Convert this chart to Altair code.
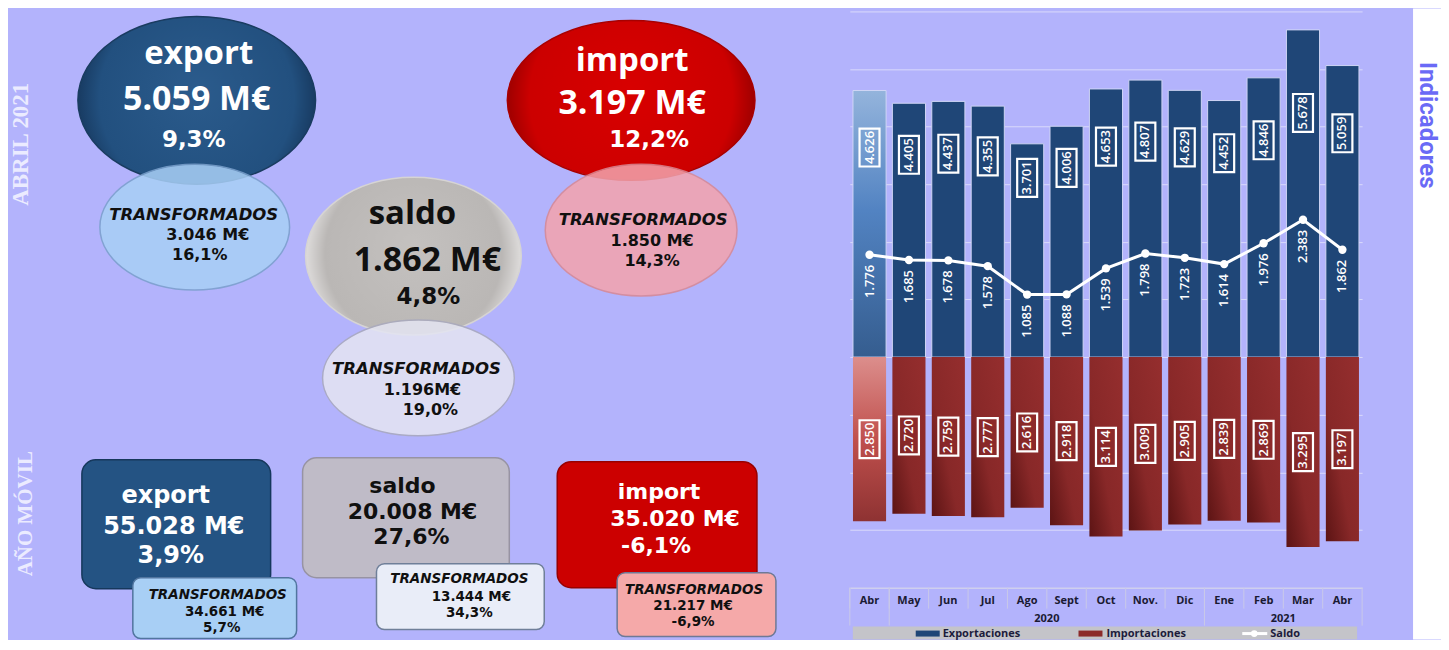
import altair as alt
import pandas as pd

# ----------------------------- datos -----------------------------
titulos = ["export", "saldo", "import"]
mes_periodo = "ABRIL 2021"
mes_valores = ["5.059 M€", "1.862 M€", "3.197 M€"]
mes_tasas = ["9,3%", "4,8%", "12,2%"]
transf_titulo = "TRANSFORMADOS"
mes_transf_valores = ["3.046 M€", "1.196M€", "1.850 M€"]
mes_transf_tasas = ["16,1%", "19,0%", "14,3%"]
anual_periodo = "AÑO MÓVIL"
anual_valores = ["55.028 M€", "20.008 M€", "35.020 M€"]
anual_tasas = ["3,9%", "27,6%", "-6,1%"]
anual_transf_valores = ["34.661 M€", "13.444 M€", "21.217 M€"]
anual_transf_tasas = ["5,7%", "34,3%", "-6,9%"]

meses = ["Abr", "May", "Jun", "Jul", "Ago", "Sept", "Oct", "Nov.", "Dic", "Ene", "Feb", "Mar", "Abr"]
grupos = [""] + ["2020"] * 8 + ["2021"] * 4
exportaciones = [4626, 4405, 4437, 4355, 3701, 4006, 4653, 4807, 4629, 4452, 4846, 5678, 5059]
importaciones = [2850, 2720, 2759, 2777, 2616, 2918, 3114, 3009, 2905, 2839, 2869, 3295, 3197]
saldo = [1776, 1685, 1678, 1578, 1085, 1088, 1539, 1798, 1723, 1614, 1976, 2383, 1862]
series = ["Exportaciones", "Importaciones", "Saldo"]
titulo_lateral = "Indicadores"

# ----------------------------- estilo -----------------------------
BG = "#b3b3fc"
WHITE = "#ffffff"
DARK = "#101010"
BLUE = "#1f4677"
RED = "#8c2a2a"

# ======================= panel izquierdo (infografía) =======================
X0, X1, Y0, Y1 = 8, 842, 8, 640
W_A, H = X1 - X0, Y1 - Y0
xs = alt.Scale(domain=[X0, X1], nice=False, zero=False)
ys = alt.Scale(domain=[Y0, Y1], nice=False, zero=False, reverse=True)


def XA(f="x"):
    return alt.X(f"{f}:Q", scale=xs, axis=None)


def YA(f="y"):
    return alt.Y(f"{f}:Q", scale=ys, axis=None)


def ellipse_path(r):
    k = 0.5523
    f = lambda v: f"{v:.4f}"
    return (f"M1,0C1,{f(k*r)} {f(k)},{f(r)} 0,{f(r)}C{f(-k)},{f(r)} -1,{f(k*r)} -1,0"
            f"C-1,{f(-k*r)} {f(-k)},{f(-r)} 0,{f(-r)}C{f(k)},{f(-r)} 1,{f(-k*r)} 1,0Z")


def radial(c0, c1, c2):
    return {"gradient": "radial", "x1": 0.5, "y1": 0.45, "r1": 0, "x2": 0.5, "y2": 0.5, "r2": 0.5,
            "stops": [{"offset": 0, "color": c0}, {"offset": 0.82, "color": c1}, {"offset": 1, "color": c2}]}


def ellipse_layer(geom, fill, stroke, sw=1.5, opacity=1.0):
    cx, cy, rx, ry = geom
    d = pd.DataFrame({"x": [cx], "y": [cy]})
    return alt.Chart(d).mark_point(
        shape=ellipse_path(ry / rx), size=4 * rx * rx, filled=True, fill=fill,
        stroke=stroke, strokeWidth=sw, opacity=opacity
    ).encode(x=XA(), y=YA())


ell_geom = [(197, 100, 119, 84), (414, 256, 108, 79), (632, 100, 124, 80)]
ell_t_geom = [(195, 227, 95, 63), (419, 378, 96, 58), (642, 230, 96, 66)]
ell_fill = [radial("#2b5b8c", "#22507f", "#183b62"),
            radial("#c4c1bf", "#bab7b5", "#dedcdb"),
            radial("#d80000", "#cc0000", "#9e0000")]
ell_stroke = ["#1a3c60", "#d6d4d3", "#a80000"]
ell_t_fill = ["#a8cff6", "#e4e5f2", "#f3a3ad"]
ell_t_stroke = ["#7aa0cc", "#a9a9bd", "#d98893"]

box_rect = [(82, 271, 460, 589), (303, 510, 458, 578), (558, 758, 462, 588)]
box_t_rect = [(133, 297, 578, 639), (377, 545, 564, 630), (618, 777, 573, 637)]
box_fill = ["#245383", "#bfbbc7", "#cc0000"]
box_stroke = ["#16385c", "#9793a3", "#980000"]
box_t_fill = ["#a8cff5", "#e9edf8", "#f5a9a9"]
box_t_stroke = ["#51759f", "#6f7f99", "#6e7996"]

ell_txt_pos = [[(199, 54), (197, 100), (194, 140)],
               [(413, 214), (428, 261), (429, 297)],
               [(633, 61), (633, 104), (650, 140)]]
ell_t_txt_pos = [[(194, 215), (208, 235), (200, 255)],
                 [(417, 369), (423, 390), (431, 410)],
                 [(644, 220), (653, 241), (653, 261)]]
box_txt_pos = [[(166, 496), (174, 527), (171, 556)],
               [(403, 486), (413, 512), (412, 537)],
               [(660, 492), (676, 519), (657, 546)]]
box_t_txt_pos = [[(218, 595), (225, 612), (222, 628)],
                 [(460, 579), (472, 597), (470, 613)],
                 [(695, 590), (694, 606), (694, 622)]]
main_color = [WHITE, DARK, WHITE]
box_size = [24, 22, 22]

big_rows, dv_rows, dvi_rows = [], [], []
for i in range(3):
    (tx, ty), (vx, vy), (rx_, ry_) = ell_txt_pos[i]
    big_rows.append((titulos[i], tx, ty, 33, main_color[i]))
    big_rows.append((mes_valores[i], vx, vy, 34, main_color[i]))
    dv_rows.append((mes_tasas[i], rx_, ry_, 23, main_color[i]))
    (tx, ty), (vx, vy), (rx_, ry_) = ell_t_txt_pos[i]
    dvi_rows.append((transf_titulo, tx, ty, 16.5, DARK))
    dv_rows.append((mes_transf_valores[i], vx, vy, 16, DARK))
    dv_rows.append((mes_transf_tasas[i], rx_, ry_, 16, DARK))
    (tx, ty), (vx, vy), (rx_, ry_) = box_txt_pos[i]
    dv_rows.append((titulos[i], tx, ty, box_size[i], main_color[i]))
    dv_rows.append((anual_valores[i], vx, vy, box_size[i], main_color[i]))
    dv_rows.append((anual_tasas[i], rx_, ry_, box_size[i], main_color[i]))
    (tx, ty), (vx, vy), (rx_, ry_) = box_t_txt_pos[i]
    dvi_rows.append((transf_titulo, tx, ty, 13.5, DARK))
    dv_rows.append((anual_transf_valores[i], vx, vy, 13.5, DARK))
    dv_rows.append((anual_transf_tasas[i], rx_, ry_, 13.5, DARK))


def text_layer(rows, font, style="normal"):
    d = pd.DataFrame(rows, columns=["t", "x", "y", "s", "c"])
    return alt.Chart(d).mark_text(
        font=font, fontWeight="bold", fontStyle=style, align="center", baseline="middle"
    ).encode(x=XA(), y=YA(), text="t:N", size=alt.Size("s:Q", scale=None),
             color=alt.Color("c:N", scale=None))


def box_layer(rects, fills, strokes, radius):
    d = pd.DataFrame([(r[0], r[1], r[2], r[3], f, s) for r, f, s in zip(rects, fills, strokes)],
                     columns=["x", "x2", "y", "y2", "f", "s"])
    return alt.Chart(d).mark_rect(cornerRadius=radius, strokeWidth=1.5).encode(
        x=XA(), x2="x2:Q", y=YA(), y2="y2:Q",
        fill=alt.Fill("f:N", scale=None), stroke=alt.Stroke("s:N", scale=None))


side = pd.DataFrame({"t": [mes_periodo, anual_periodo], "x": [21, 26], "y": [144, 514], "s": [23, 21]})
side_layer = alt.Chart(side).mark_text(
    angle=270, font="Liberation Serif", fontWeight="bold", color="#ebebff", align="center", baseline="middle"
).encode(x=XA(), y=YA(), text="t:N", size=alt.Size("s:Q", scale=None))

layers_a = []
for i in range(3):
    layers_a.append(ellipse_layer(ell_geom[i], ell_fill[i], ell_stroke[i], 1.5))
for i in range(3):
    layers_a.append(ellipse_layer(ell_t_geom[i], ell_t_fill[i], ell_t_stroke[i], 1.5, 0.86))
layers_a.append(box_layer(box_rect, box_fill, box_stroke, 14))
layers_a.append(box_layer(box_t_rect, box_t_fill, box_t_stroke, 8))
layers_a.append(text_layer(big_rows, "Open Sans"))
layers_a.append(text_layer(dv_rows, "DejaVu Sans"))
layers_a.append(text_layer(dvi_rows, "DejaVu Sans", "italic"))
layers_a.append(side_layer)
panel_a = alt.layer(*layers_a).properties(width=W_A, height=H)

# ======================= panel central (gráfico) =======================
W_B, H_B = 513, 580
keys = [f"{m}|{i}" for i, m in enumerate(meses)]
df = pd.DataFrame({"key": keys, "mes": meses, "grupo": grupos, "exp": exportaciones,
                   "imp": importaciones, "saldo": saldo, "idx": list(range(len(meses)))})

AX = alt.Axis(title=None, labelExpr="split(datum.label, '|')[0]", labelAngle=0, ticks=False, tickSize=0,
              labelPadding=7, labelFont="Open Sans", labelFontWeight="bold", labelFontSize=11,
              labelColor="#1a1a33", domainColor="#cfcfee", domainWidth=1.5, grid=False)
XS = alt.Scale(paddingInner=0, paddingOuter=0)
YS = alt.Scale(domain=[-4000, 6050], nice=False, zero=False)
AY = alt.Axis(title=None, values=list(range(-3000, 7000, 1000)), labels=False, ticks=False, domain=False,
              grid=True, gridColor="#dadafb", gridWidth=1)


def XB(bp=None):
    if bp is None:
        return alt.X("key:N", sort=keys, scale=XS, axis=AX)
    return alt.X("key:N", sort=keys, scale=XS, axis=AX, bandPosition=bp)


def YB(f):
    return alt.Y(f"{f}:Q", scale=YS, axis=AY)


base = alt.Chart(df).transform_calculate(
    imp_neg="-datum.imp",
    imp_mid="-datum.imp / 2",
    exp_pos="datum.exp * 0.57 + 1000",
    exp_lbl="replace(format(datum.exp, ','), ',', '.')",
    imp_lbl="replace(format(datum.imp, ','), ',', '.')",
    sal_lbl="replace(format(datum.saldo, ','), ',', '.')",
)

BW = alt.RelativeBandSize(0.84)
grad_exp0 = {"gradient": "linear", "x1": 0, "y1": 0, "x2": 0, "y2": 1,
             "stops": [{"offset": 0, "color": "#94b4dc"}, {"offset": 0.45, "color": "#5283c2"},
                       {"offset": 1, "color": "#355d8f"}]}
grad_imp0 = {"gradient": "linear", "x1": 0, "y1": 0, "x2": 0, "y2": 1,
             "stops": [{"offset": 0, "color": "#dc8e8c"}, {"offset": 0.5, "color": "#c0504d"},
                       {"offset": 1, "color": "#8e3232"}]}
grad_imp = {"gradient": "linear", "x1": 1, "y1": 0, "x2": 0, "y2": 1,
            "stops": [{"offset": 0, "color": "#952e2e"}, {"offset": 0.6, "color": "#882828"},
                      {"offset": 1, "color": "#5c1414"}]}

bars_exp = base.transform_filter("datum.idx > 0").mark_bar(
    width=BW, color=BLUE, stroke="#cfd5f5", strokeWidth=1).encode(x=XB(), y=YB("exp"))
bars_exp0 = base.transform_filter("datum.idx == 0").mark_bar(
    width=BW, color=grad_exp0, stroke="#cfd5f5", strokeWidth=1).encode(x=XB(), y=YB("exp"))
bars_imp = base.transform_filter("datum.idx > 0").mark_bar(
    width=BW, color=grad_imp).encode(x=XB(), y=YB("imp_neg"))
bars_imp0 = base.transform_filter("datum.idx == 0").mark_bar(
    width=BW, color=grad_imp0).encode(x=XB(), y=YB("imp_neg"))

RECT = "M-0.526,-1L0.526,-1L0.526,1L-0.526,1Z"
LBL_FONT = dict(font="Open Sans", fontSize=13, fontWeight=600, color=WHITE)
box_exp = base.mark_point(shape=RECT, size=1444, filled=False, color=WHITE, strokeWidth=2.2,
                          opacity=1).encode(x=XB(), y=YB("exp_pos"))
box_imp = base.mark_point(shape=RECT, size=1444, filled=False, color=WHITE, strokeWidth=2.2,
                          opacity=1).encode(x=XB(), y=YB("imp_mid"))
txt_exp = base.mark_text(angle=270, align="center", baseline="middle", **LBL_FONT).encode(
    x=XB(), y=YB("exp_pos"), text="exp_lbl:N")
txt_imp = base.mark_text(angle=270, align="center", baseline="middle", **LBL_FONT).encode(
    x=XB(), y=YB("imp_mid"), text="imp_lbl:N")

line_sal = base.mark_line(color=WHITE, strokeWidth=3).encode(x=XB(), y=YB("saldo"))
pts_sal = base.mark_point(filled=True, color=WHITE, size=70, opacity=1).encode(x=XB(), y=YB("saldo"))
txt_sal = base.mark_text(angle=270, align="right", baseline="middle", dx=-10, **LBL_FONT).encode(
    x=XB(), y=YB("saldo"), text="sal_lbl:N")

# separadores del eje de categorías
SEP = "#c9c9e8"
AXY = H_B
sep_short = alt.Chart(df).mark_rule(color=SEP, strokeWidth=1).encode(
    x=XB(0), y=alt.value(AXY), y2=alt.value(AXY + 21))
starts = [k for j, k in enumerate(keys) if j == 0 or grupos[j] != grupos[j - 1]]
sep_long = alt.Chart(pd.DataFrame({"key": starts})).mark_rule(color=SEP, strokeWidth=1).encode(
    x=XB(0), y=alt.value(AXY), y2=alt.value(AXY + 38))
sep_end = alt.Chart(pd.DataFrame({"key": [keys[-1]]})).mark_rule(color=SEP, strokeWidth=1).encode(
    x=XB(1), y=alt.value(AXY), y2=alt.value(AXY + 38))

# etiquetas de año (centradas en su grupo)
yr_rows = []
j = 0
while j < len(keys):
    k = j
    while k + 1 < len(keys) and grupos[k + 1] == grupos[j]:
        k += 1
    n = k - j + 1
    if grupos[j]:
        yr_rows.append((grupos[j], keys[j + n // 2]))
    j = k + 1
yr = alt.Chart(pd.DataFrame(yr_rows, columns=["g", "key"])).mark_text(
    font="Open Sans", fontWeight="bold", fontSize=11, color="#1a1a33", baseline="middle"
).encode(x=XB(0), y=alt.value(AXY + 31), text="g:N")

# leyenda
one = pd.DataFrame({"a": [0]})
LY = AXY + 46
leg = [
    alt.Chart(one).mark_rect(color="#c4c4c9").encode(
        x=alt.value(3), x2=alt.value(508), y=alt.value(LY - 7), y2=alt.value(LY + 6)),
    alt.Chart(one).mark_rect(color=BLUE).encode(
        x=alt.value(66), x2=alt.value(90), y=alt.value(LY - 3), y2=alt.value(LY + 3)),
    alt.Chart(one).mark_rect(color=RED).encode(
        x=alt.value(229), x2=alt.value(253), y=alt.value(LY - 3), y2=alt.value(LY + 3)),
    alt.Chart(one).mark_rule(color=WHITE, strokeWidth=3).encode(
        x=alt.value(393), x2=alt.value(418), y=alt.value(LY)),
    alt.Chart(one).mark_point(filled=True, color=WHITE, size=45, opacity=1).encode(
        x=alt.value(405), y=alt.value(LY)),
]
for xpos, name in zip([93, 257, 421], series):
    leg.append(alt.Chart(one).mark_text(
        font="Open Sans", fontWeight="bold", fontSize=11, color="#1c1c3c", align="left", baseline="middle"
    ).encode(x=alt.value(xpos), y=alt.value(LY), text=alt.value(name)))

panel_b = alt.layer(
    bars_exp, bars_exp0, bars_imp, bars_imp0, box_exp, txt_exp, box_imp, txt_imp,
    line_sal, pts_sal, txt_sal, sep_short, sep_long, sep_end, yr, *leg
).properties(width=W_B, height=H_B)

# ======================= franja derecha =======================
W_C = 70
panel_c = alt.layer(
    alt.Chart(one).mark_rect(color=WHITE).encode(
        x=alt.value(42), x2=alt.value(W_C), y=alt.value(0), y2=alt.value(H)),
    alt.Chart(one).mark_text(angle=90, font="Roboto", fontWeight="bold", fontSize=24, color="#6a6af6",
                             align="center", baseline="alphabetic").encode(
        x=alt.value(49), y=alt.value(117), text=alt.value(titulo_lateral)),
).properties(width=W_C, height=H)

chart = alt.hconcat(panel_a, panel_b, panel_c, spacing=8).properties(
    padding=0, background=BG
).configure_view(stroke=None)

chart.save("out.html", embed_options={"renderer": "svg", "actions": False})
